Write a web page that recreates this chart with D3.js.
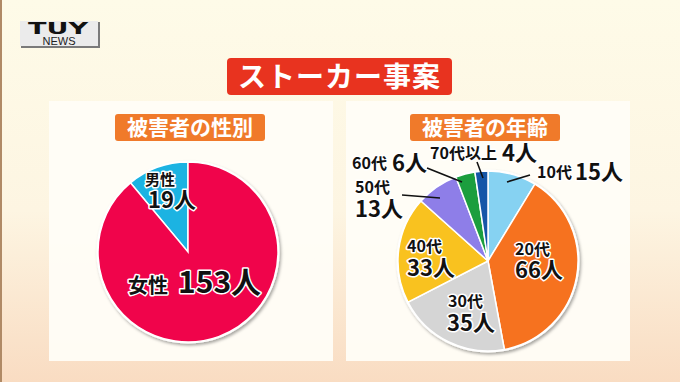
<!DOCTYPE html>
<html>
<head>
<meta charset="utf-8">
<script src="https://cdn.jsdelivr.net/npm/d3@7"></script>
<style>
  html, body { margin: 0; padding: 0; background: #fef9e6; }
  svg { display: block; font-family: "Noto Sans CJK JP", "Noto Sans", sans-serif; }
</style>
</head>
<body>
<div id="container"></div>
<script>
// data
var genderLabels = ["男性", "女性"];
var genderValues = [19, 153];
var ageLabels = ["10代", "20代", "30代", "40代", "50代", "60代", "70代以上"];
var ageValues = [15, 66, 35, 33, 13, 6, 4];

var width = 680, height = 382;

var svg = d3.select("#container").append("svg")
  .attr("width", width)
  .attr("height", height);

var defs = svg.append("defs");

// background: cream at top, peach toward the bottom
var bg = defs.append("linearGradient").attr("id", "bg")
  .attr("x1", 0).attr("y1", 0).attr("x2", 0).attr("y2", 1);
bg.append("stop").attr("offset", "0%").attr("stop-color", "#fefbe8");
bg.append("stop").attr("offset", "55%").attr("stop-color", "#fdf5e2");
bg.append("stop").attr("offset", "100%").attr("stop-color", "#f9dcc2");

var shadow = defs.append("filter").attr("id", "shadow")
  .attr("x", "-20%").attr("y", "-20%").attr("width", "140%").attr("height", "140%");
shadow.append("feDropShadow").attr("dx", 1.5).attr("dy", 2)
  .attr("stdDeviation", 1.5).attr("flood-color", "#000").attr("flood-opacity", 0.35);

svg.append("rect").attr("width", width).attr("height", height).attr("fill", "url(#bg)");
svg.append("rect").attr("x", 0).attr("y", 0).attr("width", 2).attr("height", height).attr("fill", "#b08a66");

// logo
var logo = svg.append("g");
logo.append("rect").attr("x", 21).attr("y", 22).attr("width", 79).attr("height", 26).attr("fill", "#7a7a7a");
logo.append("rect").attr("x", 20).attr("y", 21).attr("width", 78).attr("height", 25).attr("fill", "#ebebeb");
logo.append("text").attr("x", 58).attr("y", 34).attr("text-anchor", "middle")
  .attr("font-family", "DejaVu Sans, sans-serif").attr("font-weight", 900)
  .attr("font-size", 15).attr("textLength", 60).attr("lengthAdjust", "spacingAndGlyphs")
  .attr("fill", "#111").text("TUY");
logo.append("text").attr("x", 59).attr("y", 45).attr("text-anchor", "middle")
  .attr("font-family", "Liberation Sans, sans-serif")
  .attr("font-size", 11).attr("fill", "#222").text("NEWS");

// main title
svg.append("rect").attr("x", 227).attr("y", 58).attr("width", 225).attr("height", 37)
  .attr("rx", 4).attr("fill", "#e8331f");
svg.append("text").attr("x", 339.5).attr("y", 87).attr("text-anchor", "middle")
  .attr("font-size", 28).attr("font-weight", 700).attr("fill", "#fff")
  .attr("letter-spacing", 1).text("ストーカー事案");

// panels
var panels = [
  {x: 49, title: "被害者の性別", tx: 115},
  {x: 346, title: "被害者の年齢", tx: 410}
];
panels.forEach(function (p) {
  svg.append("rect").attr("x", p.x).attr("y", 101).attr("width", 284).attr("height", 260)
    .attr("fill", "#fffdf7").attr("opacity", 0.95);
  svg.append("rect").attr("x", p.tx).attr("y", 114).attr("width", 150).attr("height", 27)
    .attr("rx", 3).attr("fill", "#f07a2a");
  svg.append("text").attr("x", p.tx + 75).attr("y", 135).attr("text-anchor", "middle")
    .attr("font-size", 21).attr("font-weight", 700).attr("fill", "#fff").text(p.title);
});

function label(g, x, y, txt, size) {
  return g.append("text").attr("x", x).attr("y", y)
    .attr("font-size", size).attr("font-weight", 700)
    .attr("fill", "#111").attr("stroke", "#fff").attr("stroke-width", 3)
    .attr("stroke-linejoin", "round").attr("paint-order", "stroke")
    .text(txt);
}

// gender pie (男性 slice ends at 12 o'clock)
var r = 90;
var gTotal = d3.sum(genderValues);
var gStart = -2 * Math.PI * genderValues[0] / gTotal;
var gPie = d3.pie().sort(null).startAngle(gStart).endAngle(gStart + 2 * Math.PI);
var gColor = d3.scaleOrdinal().domain(genderLabels).range(["#1cb3e2", "#f0044b"]);
var arc = d3.arc().innerRadius(0).outerRadius(r);

var g1 = svg.append("g").attr("transform", "translate(188,252)");
g1.append("circle").attr("r", r + 1.5).attr("fill", "#fff").attr("filter", "url(#shadow)");
g1.selectAll("path").data(gPie(genderValues)).enter().append("path")
  .attr("d", arc)
  .attr("fill", function (d, i) { return gColor(genderLabels[i]); })
  .attr("stroke", "#fff").attr("stroke-width", 1.5);

label(g1, -43, -67, genderLabels[0], 15);
label(g1, -40, -44, genderValues[0] + "人", 22);
label(g1, -60, 41, genderLabels[1], 20);
label(g1, -10, 41, genderValues[1] + "人", 30);

// age pie, clockwise from 12 o'clock
var aPie = d3.pie().sort(null);
var aColor = d3.scaleOrdinal().domain(ageLabels)
  .range(["#86d2f2", "#f6721f", "#d5d5d5", "#f9c21f", "#8e7ee8", "#1b9e3e", "#1656a8"]);

var g2 = svg.append("g").attr("transform", "translate(488,261)");
g2.append("circle").attr("r", r + 1.5).attr("fill", "#fff").attr("filter", "url(#shadow)");
g2.selectAll("path").data(aPie(ageValues)).enter().append("path")
  .attr("d", arc)
  .attr("fill", function (d, i) { return aColor(ageLabels[i]); })
  .attr("stroke", "#fff").attr("stroke-width", 1.5);

// leader lines (relative to pie centre)
var leaders = [
  [[19, -79], [42, -86]],    // 10代
  [[-86, -66], [-48, -63]],  // 50代
  [[-61, -93], [-26, -79]],  // 60代
  [[-11, -99], [-5, -83]]    // 70代以上
];
leaders.forEach(function (l) {
  g2.append("path").attr("d", d3.line()(l))
    .attr("stroke", "#111").attr("stroke-width", 1.6).attr("fill", "none");
});

label(g2, 49, -83, ageLabels[0], 16);
label(g2, 87, -81, ageValues[0] + "人", 22);
label(g2, 27, -6, ageLabels[1], 16);
label(g2, 27, 17, ageValues[1] + "人", 22);
label(g2, -40, 46, ageLabels[2], 16);
label(g2, -41, 70, ageValues[2] + "人", 22);
label(g2, -81, -9, ageLabels[3], 16);
label(g2, -81, 15, ageValues[3] + "人", 22);
label(g2, -133, -68, ageLabels[4], 16);
label(g2, -133, -44, ageValues[4] + "人", 22);
label(g2, -136, -92, ageLabels[5], 16);
label(g2, -96, -90, ageValues[5] + "人", 22);
label(g2, -58, -102, ageLabels[6], 16);
label(g2, 14, -100, ageValues[6] + "人", 22);
</script>
</body>
</html>
